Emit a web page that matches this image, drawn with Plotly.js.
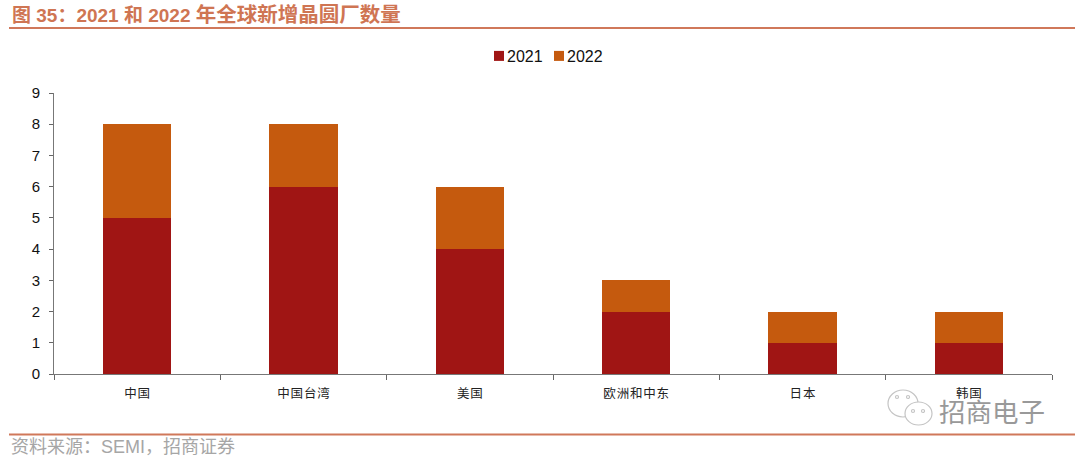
<!DOCTYPE html>
<html><head><meta charset="utf-8">
<script src="https://cdn.plot.ly/plotly-3.0.1.min.js"></script>
<style>html,body{margin:0;padding:0;background:#fff}#c{width:1080px;height:458px}</style>
</head><body><div id="c"></div>
<script>
const categories = ["中国","中国台湾","美国","欧洲和中东","日本","韩国"];
const values2021 = [5,6,4,2,1,1];
const values2022 = [3,2,2,1,1,1];
const yTicks = [0,1,2,3,4,5,6,7,8,9];
const titleHead = "图 35\uFF1A2021 和 2022 ";
const titleTail = "年全球新增晶圆厂数量";
const sourceText = "资料来源\uFF1ASEMI\uFF0C招商证券";
const watermark = "招商电子";
const CJK = '"Noto Sans CJK SC","Liberation Sans",sans-serif';
const LAT = '"Liberation Sans",Arial,sans-serif';
const MIX = '"Liberation Sans","Noto Sans CJK SC",sans-serif';
function spaced(s){return s.split("").join("\u200A");}
const W=1080,H=458,L=54,R=28,T=93,B=84;
const px=x=>(x-L)/(W-L-R), py=y=>1-(y-T)/(H-T-B);
const ruleLine=(y,w)=>({type:"line",xref:"paper",yref:"paper",x0:px(9),x1:px(1075),y0:py(y),y1:py(y),line:{color:"#D0785A",width:w}});
const bubble=(x0,x1,y0,y1)=>({type:"circle",xref:"paper",yref:"paper",x0:px(x0),x1:px(x1),y0:py(y1),y1:py(y0),fillcolor:"#fff",line:{color:"#c4c4c4",width:1.2}});
const dot=(x,y)=>bubble(x-1.5,x+1.5,y-1.5,y+1.5);
Plotly.newPlot("c",[
 {type:"bar",name:"2021",x:categories.map(spaced),y:values2021,marker:{color:"#A01514",line:{width:0}},width:0.41},
 {type:"bar",name:"2022",x:categories.map(spaced),y:values2022,marker:{color:"#C55A0E",line:{width:0}},width:0.41}
],{
 width:W,height:H,barmode:"stack",paper_bgcolor:"#fff",plot_bgcolor:"#fff",
 margin:{l:L,r:R,t:T,b:B,pad:0},
 font:{family:LAT,color:"#111"},
 xaxis:{type:"category",tickson:"boundaries",ticks:"outside",ticklen:5,tickcolor:"#666",tickwidth:1,showline:true,linecolor:"#777",linewidth:1,showgrid:false,tickfont:{family:CJK,size:12.5,color:"#222"},tickangle:0,automargin:false,ticklabelstandoff:8},
 yaxis:{range:[0,9],tickmode:"array",tickvals:yTicks,ticktext:yTicks.map(String),ticks:"outside",ticklen:4,tickcolor:"#666",showline:true,linecolor:"#777",linewidth:1,showgrid:false,zeroline:false,tickfont:{family:LAT,size:15,color:"#111"},automargin:false,ticklabelstandoff:6},
 showlegend:true,
 legend:{orientation:"h",x:px(539),xanchor:"center",y:py(56),yanchor:"middle",font:{family:LAT,size:16,color:"#111"},entrywidth:15,entrywidthmode:"pixels",traceorder:"normal",bgcolor:"rgba(0,0,0,0)"},
 shapes:[ruleLine(28,2),ruleLine(434.5,2),bubble(888,918,390,417),bubble(905,932,402,425),dot(897,397),dot(908,397),dot(913,411),dot(923,411)],
 annotations:[
  {xref:"paper",yref:"paper",x:px(10),y:py(14),xanchor:"left",yanchor:"middle",showarrow:false,text:"<b>"+titleHead+'<span style="font-size:20.5px">'+titleTail+"</span></b>",font:{family:MIX,size:19,color:"#CF7553"}},
  {xref:"paper",yref:"paper",x:px(9),y:py(447),xanchor:"left",yanchor:"middle",showarrow:false,text:sourceText,font:{family:MIX,size:18,color:"#A6A6A6"}},
  {xref:"paper",yref:"paper",x:px(937),y:py(410),xanchor:"left",yanchor:"middle",showarrow:false,text:watermark,font:{family:CJK,size:26.5,color:"#999"}}
 ]
},{staticPlot:true,displayModeBar:false}).then(()=>{
 document.querySelectorAll("#c .legendtext").forEach(t=>t.setAttribute("x",+t.getAttribute("x")-12));
 document.querySelectorAll("#c .legendpoints path").forEach(p=>p.setAttribute("d","M5,5H-5V-5H5Z"));
 document.querySelectorAll("#c .legend, #c .legend *").forEach(e=>{e.removeAttribute("clip-path");e.style.clipPath="none";});
});
</script></body></html>
